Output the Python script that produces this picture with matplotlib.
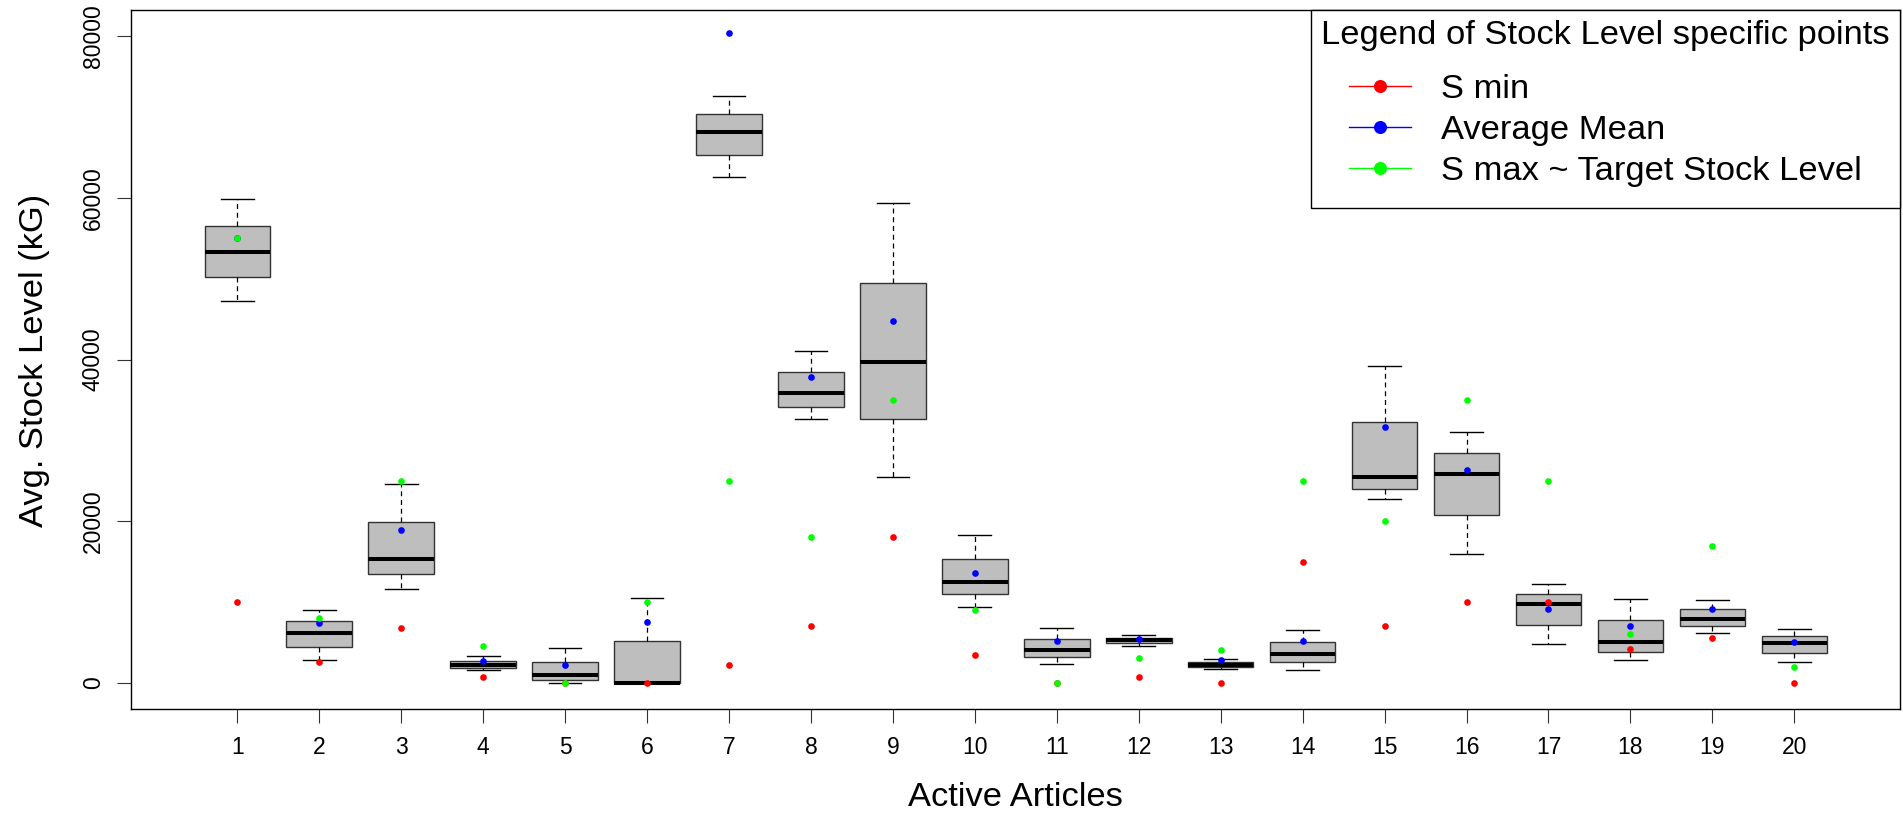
import matplotlib
matplotlib.use("Agg")
import matplotlib.pyplot as plt
from matplotlib.lines import Line2D

plt.rcParams['font.family'] = ['Liberation Sans', 'DejaVu Sans']

# ---------------- data ----------------
articles = list(range(1, 21))
whisker_low = [47200, 2850, 11600, 1650, 0, 0, 62600, 32600, 25500, 9400,
               2300, 4550, 1770, 1650, 22800, 15900, 4780, 2850, 6180, 2550]
q1 = [50200, 4500, 13500, 1900, 330, 0, 65300, 34150, 32600, 10950,
      3200, 4900, 1940, 2550, 24050, 20800, 7200, 3830, 7090, 3700]
median = [53350, 6150, 15350, 2230, 950, 0, 68100, 35900, 39650, 12500,
          4080, 5300, 2230, 3550, 25500, 25900, 9760, 5070, 7950, 4980]
q3 = [56500, 7620, 19900, 2680, 2550, 5150, 70350, 38400, 49400, 15350,
      5440, 5560, 2550, 5030, 32300, 28450, 11000, 7750, 9190, 5810]
whisker_high = [59900, 9060, 24550, 3340, 4290, 10450, 72550, 41100, 59300, 18350,
                6840, 5970, 3010, 6590, 39200, 31000, 12280, 10420, 10300, 6720]
s_min = [10000, 2650, 6800, 700, 0, 0, 2270, 7050, 18000, 3420,
         0, 700, 0, 15000, 7050, 10000, 10000, 4200, 5600, 0]
avg_mean = [55000, 7380, 18900, 2760, 2230, 7540, 80380, 37800, 44800, 13650,
            5230, 5400, 2880, 5230, 31700, 26300, 9100, 7050, 9100, 5100]
s_max = [55000, 8080, 25000, 4600, 0, 10000, 25000, 18000, 35000, 9000,
         0, 3050, 4080, 25000, 20000, 35000, 25000, 6000, 17000, 2000]
y_ticks = [0, 20000, 40000, 60000, 80000]

W, H = 1903, 813
fig = plt.figure(figsize=(W / 100, H / 100), dpi=100)
L, R, T, B = 130.8, 1900, 10, 709
ax = fig.add_axes([L / W, 1 - B / H, (R - L) / W, (B - T) / H])

stats = []
for i in range(len(articles)):
    stats.append(dict(med=median[i], q1=q1[i], q3=q3[i],
                      whislo=whisker_low[i], whishi=whisker_high[i], fliers=[]))

ax.bxp(stats, positions=articles, widths=0.8, patch_artist=True,
       showfliers=False, manage_ticks=False, capwidths=0.4,
       boxprops=dict(facecolor='#BEBEBE', edgecolor='#333333', linewidth=1.0),
       medianprops=dict(color='black', linewidth=2.9, solid_capstyle='butt'),
       whiskerprops=dict(color='black', linestyle=(0, (4, 3)), linewidth=0.9),
       capprops=dict(color='black', linewidth=1.0))

ax.plot(articles, s_min, 'o', color='red', ms=4.8, mec='none', zorder=5)
ax.plot(articles, avg_mean, 'o', color='blue', ms=4.8, mec='none', zorder=5)
ax.plot(articles, s_max, 'o', color='#00FF00', ms=4.8, mec='none', zorder=5)

ax.set_xlim(-0.30, 21.29)
ax.set_ylim(-3215, 83217)
ax.set_xticks(articles)
ax.set_xticklabels([str(a) for a in articles])
ax.set_yticks(y_ticks)
ax.set_yticklabels([str(v) for v in y_ticks], rotation=90, va='center')
ax.tick_params(axis='both', length=10, width=0.8, direction='out', labelsize=16.5,
               color='#333333')
ax.tick_params(axis='x', pad=9.4)
ax.tick_params(axis='y', pad=8.6)
for s in ax.spines.values():
    s.set_linewidth(1.0)
    s.set_color('black')

BIG = 24.8
fig.text(1015 / W, 1 - 797 / H, 'Active Articles', fontsize=BIG,
         ha='center', va='center')
fig.text(34.6 / W, 1 - 360 / H, 'Avg. Stock Level (kG)', fontsize=BIG,
         ha='center', va='center', rotation=90)

handles = [
    Line2D([], [], color='red', marker='o', ms=9.4, lw=1.0, mec='none'),
    Line2D([], [], color='blue', marker='o', ms=9.4, lw=1.0, mec='none'),
    Line2D([], [], color='#00FF00', marker='o', ms=9.4, lw=1.0, mec='none'),
]
labels = ['S min', 'Average Mean', 'S max ~ Target Stock Level']
leg = ax.legend(handles, labels, title='Legend of Stock Level specific points',
                loc='upper right', bbox_to_anchor=(1, 1), borderaxespad=0,
                fontsize=BIG, title_fontsize=BIG, fancybox=False,
                edgecolor='black', framealpha=1, handlelength=1.8,
                handletextpad=0.87, borderpad=0.30, labelspacing=0.28,
                numpoints=1)
leg.get_frame().set_linewidth(1.0)
# extra space around the entries block (points)
leg._legend_handle_box.pad = 8
leg._legend_box.sep = 8.5

fig.savefig('out.png', dpi=100)
